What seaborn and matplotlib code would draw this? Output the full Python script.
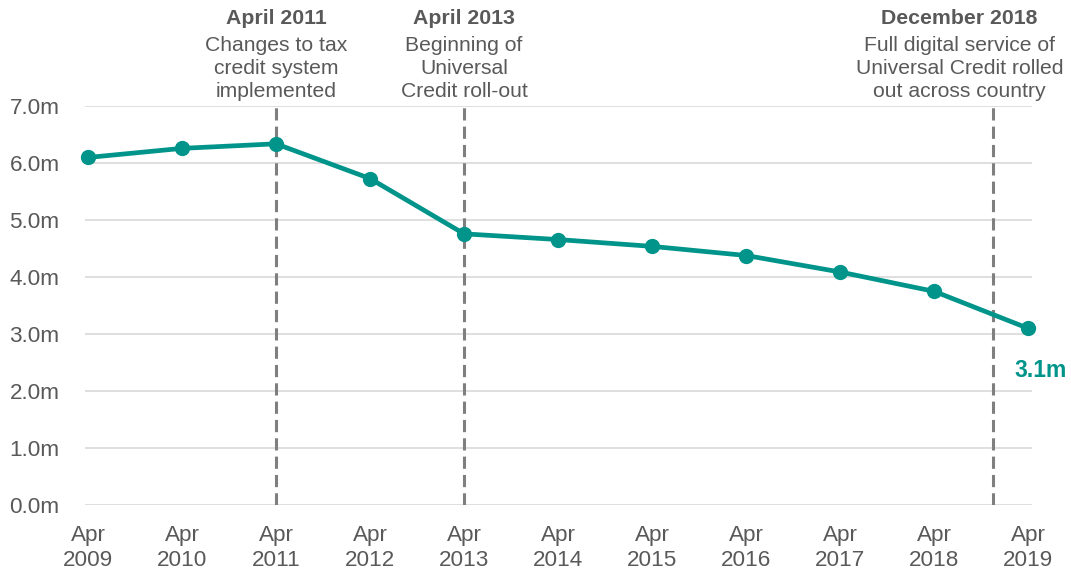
import pandas as pd
import matplotlib.pyplot as plt
import matplotlib.ticker as mticker
import seaborn as sns

sns.set_theme(style="whitegrid")
plt.rcParams["font.family"] = ["Liberation Sans", "DejaVu Sans"]

years = [2009, 2010, 2011, 2012, 2013, 2014, 2015, 2016, 2017, 2018, 2019]
claimants = [6.10, 6.26, 6.34, 5.73, 4.76, 4.66, 4.54, 4.38, 4.09, 3.75, 3.10]
tick_labels = ["Apr\n" + str(y) for y in years]

event_pos = [2011, 2013, 2018.62]
event_titles = ["April 2011", "April 2013", "December 2018"]
event_texts = [
    "Changes to tax\ncredit system\nimplemented",
    "Beginning of\nUniversal\nCredit roll-out",
    "Full digital service of\nUniversal Credit rolled\nout across country",
]
event_shift = [0, 0, -24]  # points, horizontal nudge of the text block

df = pd.DataFrame({"year": years, "claimants": claimants})

teal = "#00948A"
grey_txt = "#595959"

fig = plt.figure(figsize=(10.71, 5.74), dpi=100)
ax = fig.add_axes([0.079, 0.12, 0.885, 0.695])

for x in event_pos:
    ax.plot([x, x], [0, 7], color="#7f7f7f", lw=2.2, dashes=(4, 2), zorder=1)

sns.lineplot(data=df, x="year", y="claimants", color=teal, lw=3.4,
             marker="o", markersize=11, markeredgewidth=0, ax=ax, zorder=3,
             clip_on=False)

ax.annotate(f"{claimants[-1]:.1f}m", (years[-1], claimants[-1]), xytext=(9, -22),
            textcoords="offset points", ha="center", va="top",
            color=teal, fontsize=16.5, fontweight="bold", annotation_clip=False)

for x, title, txt, dx in zip(event_pos, event_titles, event_texts, event_shift):
    ax.annotate(txt, (x, 7), xytext=(dx, 4), textcoords="offset points",
                ha="center", va="bottom", color=grey_txt, fontsize=15.2,
                linespacing=1.24, annotation_clip=False)
    ax.annotate(title, (x, 7), xytext=(dx, 56), textcoords="offset points",
                ha="center", va="bottom", color=grey_txt, fontsize=15.3,
                fontweight="bold", annotation_clip=False)

ax.set_xlim(2008.965, 2019.043)
ax.set_ylim(0, 7)
ax.set_xticks(years)
ax.set_xticklabels(tick_labels)
ax.set_yticks(range(0, 8))
ax.yaxis.set_major_formatter(mticker.FuncFormatter(lambda v, p: f"{v:.1f}m"))
ax.set_xlabel("")
ax.set_ylabel("")
ax.grid(axis="x", visible=False)
ax.grid(axis="y", color="#d9d9d9", lw=1.2)
for s in ax.spines.values():
    s.set_visible(False)
ax.tick_params(axis="both", colors=grey_txt, labelsize=16.2, length=0)
ax.tick_params(axis="x", pad=14, labelcolor=grey_txt)
ax.tick_params(axis="y", pad=18)
for lbl in ax.get_xticklabels():
    lbl.set_linespacing(1.25)

fig.savefig("out.png", dpi=100)
